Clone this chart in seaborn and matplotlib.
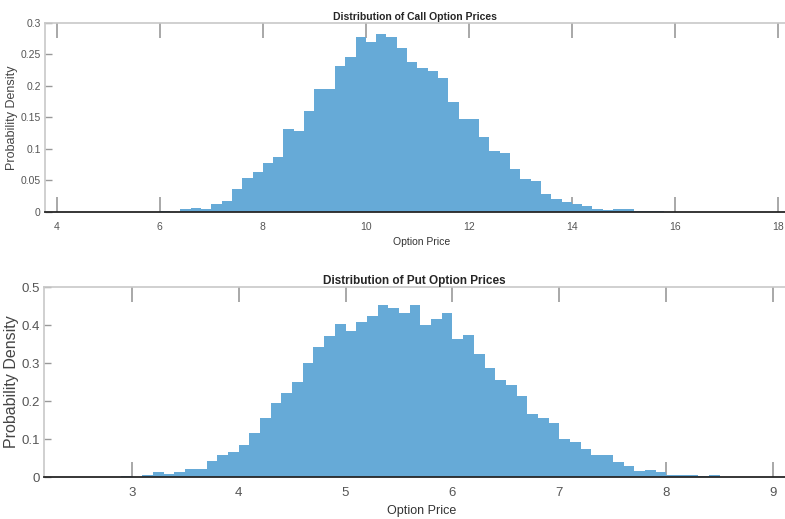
"""
Histograms of simulated call and put option prices (MATLAB-style look).
"""
import matplotlib
matplotlib.use('Agg')
import matplotlib.pyplot as plt
import seaborn as sns
import numpy as np
import pandas as pd

# Call option prices: bins of width 0.2 starting at 6.0, density per bin
call_start = 6.0
call_width = 0.2
call_density = [0.0015, 0.0005, 0.004, 0.007, 0.005, 0.013, 0.017, 0.037, 0.054, 0.064,
                0.078, 0.088, 0.132, 0.128, 0.161, 0.195, 0.195, 0.231, 0.246, 0.277,
                0.270, 0.283, 0.278, 0.260, 0.2375, 0.228, 0.224, 0.212, 0.175, 0.148,
                0.148, 0.119, 0.097, 0.094, 0.068, 0.053, 0.049, 0.029, 0.021, 0.016,
                0.013, 0.0095, 0.005, 0.003, 0.004, 0.004, 0.001, 0.002, 0.001]

# Put option prices: bins of width 0.1 starting at 2.9
put_start = 2.9
put_width = 0.1
put_density = [0.003, 0.001, 0.006, 0.012, 0.009, 0.014, 0.022, 0.022, 0.041, 0.059,
               0.066, 0.085, 0.115, 0.155, 0.196, 0.221, 0.250, 0.301, 0.343, 0.370,
               0.403, 0.385, 0.408, 0.424, 0.453, 0.446, 0.432, 0.452, 0.401, 0.417,
               0.431, 0.362, 0.373, 0.325, 0.286, 0.256, 0.243, 0.213, 0.165, 0.154,
               0.142, 0.099, 0.092, 0.075, 0.059, 0.059, 0.039, 0.029, 0.016, 0.018,
               0.012, 0.006, 0.004, 0.005, 0.003, 0.004]

call_xticks = [4, 6, 8, 10, 12, 14, 16, 18]
call_yticks = [0, 0.05, 0.1, 0.15, 0.2, 0.25, 0.3]
call_yticklabels = ["0", "0.05", "0.1", "0.15", "0.2", "0.25", "0.3"]
put_xticks = [3, 4, 5, 6, 7, 8, 9]
put_yticks = [0, 0.1, 0.2, 0.3, 0.4, 0.5]
put_yticklabels = ["0", "0.1", "0.2", "0.3", "0.4", "0.5"]

BAR_COLOR = "#66AAD7"
sns.set_style("white")
plt.rcParams['font.family'] = ['Liberation Sans Narrow', 'Liberation Sans', 'DejaVu Sans']


def draw_hist(ax, start, width, density, xlim, ylim, xticks, yticks, yticklabels,
              title, fs_tick, fs_xlabel, fs_ylabel, fs_title):
    n = len(density)
    df = pd.DataFrame({
        "price": start + width * (np.arange(n) + 0.5),
        "density": density,
    })
    sns.histplot(data=df, x="price", weights="density", binwidth=width,
                 binrange=(start, start + width * n), stat="count",
                 element="step", fill=True, color=BAR_COLOR, alpha=1.0,
                 linewidth=0, ax=ax)
    ax.set_xlim(*xlim)
    ax.set_ylim(*ylim)
    ax.set_xticks(xticks)
    ax.set_xticklabels([str(t) for t in xticks])
    ax.set_yticks(yticks)
    ax.set_yticklabels(yticklabels)
    ax.tick_params(axis='x', direction='in', top=True, bottom=True, length=11,
                   width=1.2, color="#999999", labelsize=fs_tick, labelcolor="#555555", pad=7)
    ax.tick_params(axis='y', direction='in', left=True, length=5, width=1,
                   color="#999999", labelsize=fs_tick, labelcolor="#555555", pad=3)
    for side in ["left", "top"]:
        ax.spines[side].set_color("#c8c8c8")
        ax.spines[side].set_linewidth(1.2)
    ax.spines["right"].set_visible(False)
    ax.spines["bottom"].set_color("#262626")
    ax.spines["bottom"].set_linewidth(1.3)
    ax.set_title(title, fontsize=fs_title, fontweight='bold', pad=2)
    ax.set_xlabel("Option Price", fontsize=fs_xlabel, color="#333333")
    ax.set_ylabel("Probability Density", fontsize=fs_ylabel, color="#444444")


fig = plt.figure(figsize=(7.85, 5.19), dpi=100)
W, H = 785, 519
ax1 = fig.add_axes([45 / W, 1 - 212 / H, (W - 45) / W, (212 - 23) / H])
ax2 = fig.add_axes([44 / W, 1 - 477 / H, (W - 44) / W, (477 - 287) / H])

draw_hist(ax1, call_start, call_width, call_density, (3.77, 18.14), (0, 0.3),
          call_xticks, call_yticks, call_yticklabels,
          "Distribution of Call Option Prices", 7.5, 7.5, 9, 7.5)
draw_hist(ax2, put_start, put_width, put_density, (2.18, 9.11), (0, 0.5),
          put_xticks, put_yticks, put_yticklabels,
          "Distribution of Put Option Prices", 9.5, 9, 11.5, 8.5)

ax1.yaxis.set_label_coords(-0.037, 0.5)
ax2.yaxis.set_label_coords(-0.034, 0.5)
ax1.xaxis.set_label_coords(0.509, -0.13)
ax2.xaxis.set_label_coords(0.51, -0.145)

fig.savefig("out.png", dpi=100)
plt.close(fig)
